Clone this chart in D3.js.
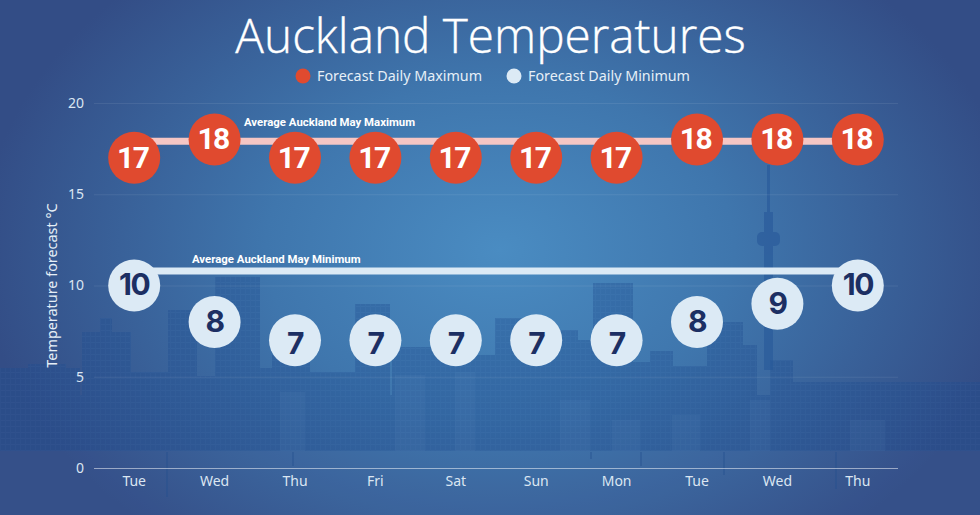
<!DOCTYPE html>
<html>
<head>
<meta charset="utf-8">
<script src="https://cdn.jsdelivr.net/npm/d3@7"></script>
<style>
  html, body { margin: 0; padding: 0; background: #34508a; }
  svg { display: block; }
  text { font-family: "Noto Sans", "Open Sans", sans-serif; fill: #e6eff7; }
  .axis path, .axis line { fill: none; }
  .axis text { font-size: 14px; fill: #dbe6f2; }
</style>
</head>
<body>
<svg id="chart" width="980" height="515"></svg>
<script>
var days = ["Tue", "Wed", "Thu", "Fri", "Sat", "Sun", "Mon", "Tue", "Wed", "Thu"];
var maxTemps = [17, 18, 17, 17, 17, 17, 17, 18, 18, 18];
var minTemps = [10, 8, 7, 7, 7, 7, 7, 8, 9, 10];
var yTicks = [0, 5, 10, 15, 20];
var avgMax = 17.9;
var avgMin = 10.8;

// backdrop only, not data: [left, right, top]
var towers = [
  [0, 80, 368], [28, 66, 364], [82, 131, 332], [100, 112, 318], [131, 168, 372],
  [168, 197, 310], [197, 215, 376], [215, 260, 277], [260, 272, 368], [272, 310, 355],
  [310, 355, 372], [355, 390, 304], [392, 470, 347], [470, 495, 355], [495, 540, 318],
  [540, 578, 330], [578, 593, 340], [593, 633, 283], [633, 650, 362], [650, 673, 351],
  [673, 707, 366], [707, 743, 322], [737, 757, 345], [770, 793, 360], [793, 980, 382]
];
// pale low-rise blocks in front of the towers
var lowRise = [
  [280, 305, 392], [395, 425, 375], [455, 475, 372], [560, 590, 400], [612, 640, 420],
  [672, 700, 415], [750, 770, 400], [850, 885, 420]
];
// boat masts on the water: [x, bottom]
var masts = [[167, 497], [293, 466], [591, 459], [641, 466], [724, 475], [836, 489]];

var width = 980, height = 515;
var svg = d3.select("#chart");
var defs = svg.append("defs");

var bg = defs.append("radialGradient").attr("id", "bg")
    .attr("gradientUnits", "userSpaceOnUse")
    .attr("cx", 500).attr("cy", 250).attr("r", 520)
    .attr("gradientTransform", "translate(500,250) scale(1,0.72) translate(-500,-250)");
bg.append("stop").attr("offset", "0%").attr("stop-color", "#4a8cc2");
bg.append("stop").attr("offset", "45%").attr("stop-color", "#3f76ad");
bg.append("stop").attr("offset", "100%").attr("stop-color", "#334d86");

var win = defs.append("pattern").attr("id", "windows").attr("patternUnits", "userSpaceOnUse")
    .attr("width", 5).attr("height", 6);
win.append("rect").attr("width", 5).attr("height", 6).attr("fill", "#1f4d90");
win.append("rect").attr("width", 5).attr("height", 1).attr("fill", "#2b5a9b");
win.append("rect").attr("width", 1).attr("height", 6).attr("fill", "#275698");

svg.append("rect").attr("width", width).attr("height", height).attr("fill", "url(#bg)");

// skyline, group opacity so overlaps do not stack
var city = svg.append("g").attr("fill", "url(#windows)").attr("opacity", 0.36);
city.selectAll("rect.t").data(towers).join("rect").attr("class", "t")
    .attr("x", function(d) { return d[0]; })
    .attr("y", function(d) { return d[2]; })
    .attr("width", function(d) { return d[1] - d[0]; })
    .attr("height", function(d) { return 451 - d[2]; });
city.append("rect").attr("x", 0).attr("y", 395).attr("width", width).attr("height", 56);
svg.append("g").attr("fill", "#7ba6d2").attr("opacity", 0.07)
  .selectAll("rect").data(lowRise).join("rect")
    .attr("x", function(d) { return d[0]; })
    .attr("y", function(d) { return d[2]; })
    .attr("width", function(d) { return d[1] - d[0]; })
    .attr("height", function(d) { return 451 - d[2]; });
// sky tower
var sky = svg.append("g").attr("fill", "#27589a").attr("opacity", 0.6);
sky.append("rect").attr("x", 767).attr("y", 165).attr("width", 3).attr("height", 50);
sky.append("rect").attr("x", 764).attr("y", 212).attr("width", 9).attr("height", 158);
sky.append("rect").attr("x", 757).attr("y", 232).attr("width", 23).attr("height", 14).attr("rx", 5);
// water
svg.append("rect").attr("x", 0).attr("y", 451).attr("width", width).attr("height", 64)
    .attr("fill", "#5d8fc4").attr("opacity", 0.05);
svg.append("g").attr("stroke", "#24508f").attr("stroke-width", 1.5).attr("opacity", 0.5)
  .selectAll("line").data(masts).join("line")
    .attr("x1", function(d) { return d[0]; }).attr("x2", function(d) { return d[0]; })
    .attr("y1", 452).attr("y2", function(d) { return d[1]; });

var x = d3.scaleBand().domain(d3.range(days.length)).range([94, 898]);
var y = d3.scaleLinear().domain([0, 20]).range([468, 103]);
var cx = function(d, i) { return x(i) + x.bandwidth() / 2; };

// gridlines
svg.append("g").selectAll("line").data(yTicks).join("line")
    .attr("x1", 94).attr("x2", 898)
    .attr("y1", function(d) { return y(d) + 0.5; })
    .attr("y2", function(d) { return y(d) + 0.5; })
    .attr("stroke", "#fff")
    .attr("stroke-opacity", function(d) { return d === 0 ? 0.5 : 0.08; });

var yAxis = d3.axisLeft(y).tickValues(yTicks).tickSize(0).tickPadding(10);
svg.append("g").attr("class", "axis").attr("transform", "translate(94,0)").call(yAxis);

var xAxis = d3.axisBottom(x).tickSize(0).tickPadding(8).tickFormat(function(i) { return days[i]; });
svg.append("g").attr("class", "axis").attr("transform", "translate(0,468)").call(xAxis);

svg.selectAll(".axis path").remove();

svg.append("text")
    .attr("transform", "translate(57,285.5) rotate(-90)")
    .attr("text-anchor", "middle")
    .style("font-size", "14.4px")
    .text("Temperature forecast °C");

// title and legend
svg.append("text").attr("x", 490.5).attr("y", 53).attr("text-anchor", "middle")
    .style("font-family", '"Open Sans", "Noto Sans", sans-serif')
    .style("font-size", "47.7px").style("font-weight", 300).style("fill", "#fff")
    .style("stroke", "#fff").style("stroke-width", 0.35)
    .text("Auckland Temperatures");

var legend = [
  { x: 303, label: "Forecast Daily Maximum", color: "#e04a2f" },
  { x: 514, label: "Forecast Daily Minimum", color: "#dceaf5" }
];
var lg = svg.append("g").selectAll("g").data(legend).join("g")
    .attr("transform", function(d) { return "translate(" + d.x + ",76)"; });
lg.append("circle").attr("r", 7.5).attr("fill", function(d) { return d.color; });
lg.append("text").attr("x", 14).attr("y", 5).style("font-size", "14.3px")
    .text(function(d) { return d.label; });

// average lines
svg.append("line")
    .attr("x1", cx(null, 0)).attr("x2", cx(null, days.length - 1))
    .attr("y1", y(avgMax)).attr("y2", y(avgMax))
    .attr("stroke", "#f5c6c4").attr("stroke-width", 7);
svg.append("line")
    .attr("x1", cx(null, 0)).attr("x2", cx(null, days.length - 1))
    .attr("y1", y(avgMin)).attr("y2", y(avgMin))
    .attr("stroke", "#dceaf5").attr("stroke-width", 7);

svg.append("text").attr("x", 244).attr("y", 126)
    .style("font-family", "Roboto, sans-serif").style("font-size", "11.4px")
    .style("font-weight", 700).style("fill", "#fff")
    .text("Average Auckland May Maximum");
svg.append("text").attr("x", 192).attr("y", 263)
    .style("font-family", "Roboto, sans-serif").style("font-size", "11.4px")
    .style("font-weight", 700).style("fill", "#fff")
    .text("Average Auckland May Minimum");

// dots
function dots(values, fill, textFill, font, size, spacing, shift) {
  var g = svg.append("g").selectAll("g").data(values).join("g")
      .attr("transform", function(d, i) { return "translate(" + cx(d, i) + "," + y(d) + ")"; });
  g.append("circle").attr("r", 26).attr("fill", fill);
  g.append("text").attr("text-anchor", "middle")
      .attr("dx", shift)
      // the 7s sit a little low in their circles
      .attr("dy", function(d) { return d === 7 ? "0.46em" : "0.33em"; })
      .style("font-family", font).style("font-size", size + "px")
      .style("font-weight", 700).style("fill", textFill)
      .style("letter-spacing", spacing + "px")
      .text(function(d) { return d; });
}
dots(maxTemps, "#e04a2f", "#fff", "Roboto, sans-serif", 30, -1.5, -1.5);
dots(minTemps, "#dceaf5", "#1c2f63", "Inter, sans-serif", 30, -1.5, 0);
</script>
</body>
</html>
